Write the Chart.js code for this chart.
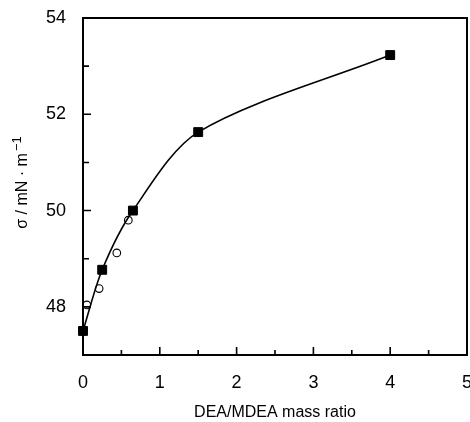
<!DOCTYPE html>
<html>
<head>
<meta charset="utf-8">
<script src="https://cdn.jsdelivr.net/npm/chart.js@4/dist/chart.umd.min.js"></script>
<style>
  html, body { margin: 0; padding: 0; background: #fff; }
  #wrap { width: 470px; height: 422px; }
</style>
</head>
<body>
<div id="wrap"><canvas id="c" width="470" height="422"></canvas></div>
<script>
// Filled squares (with smooth curve through them)
const squareX = [0, 0.25, 0.65, 1.5, 4.0];
const squareY = [47.5, 48.77, 50.0, 51.63, 53.23];
// Open circles
const circleX = [0.05, 0.21, 0.44, 0.59];
const circleY = [48.04, 48.38, 49.12, 49.8];
// Axis settings
const xMin = 0, xMax = 5, xStep = 0.5;
const yMin = 47, yMax = 54, yStep = 1;
const xTitle = 'DEA/MDEA mass ratio';
const yTitleMain = 'σ / mN · m';
const yTitleSup = '−1';

const toPts = (xs, ys) => xs.map((x, i) => ({ x: x, y: ys[i] }));
const FONT = 'Liberation Sans, Arial, Helvetica, sans-serif';

const frame = {
  id: 'frame',
  afterDatasetsDraw(chart) {
    const { ctx, chartArea: a, scales } = chart;
    ctx.save();
    ctx.strokeStyle = '#000';
    ctx.lineWidth = 2;
    ctx.strokeRect(a.left, a.top, a.right - a.left, a.bottom - a.top);
    ctx.lineWidth = 1.6;
    ctx.beginPath();
    scales.x.ticks.forEach(t => {
      const px = scales.x.getPixelForValue(t.value);
      const major = Math.abs(t.value - Math.round(t.value)) < 1e-6;
      const len = major ? 8 : 5;
      ctx.moveTo(px, a.bottom);
      ctx.lineTo(px, a.bottom - len);
    });
    scales.y.ticks.forEach(t => {
      const py = scales.y.getPixelForValue(t.value);
      const major = Math.round(t.value) % 2 === 0;
      const len = major ? 8 : 6;
      ctx.moveTo(a.left, py);
      ctx.lineTo(a.left + len, py);
    });
    ctx.stroke();

    // y-axis title with true superscript
    const mainFont = '16px ' + FONT;
    const supFont = '13px ' + FONT;
    ctx.font = mainFont;
    const wMain = ctx.measureText(yTitleMain).width;
    ctx.font = supFont;
    const wSup = ctx.measureText(yTitleSup).width;
    const gap = 2;
    const total = wMain + gap + wSup;
    const cy = (a.top + a.bottom) / 2 - 4;
    const baseX = 27;
    ctx.translate(baseX, cy);
    ctx.rotate(-Math.PI / 2);
    ctx.fillStyle = '#000';
    ctx.textBaseline = 'alphabetic';
    ctx.textAlign = 'left';
    ctx.font = mainFont;
    ctx.fillText(yTitleMain, -total / 2, 0);
    ctx.font = supFont;
    ctx.fillText(yTitleSup, -total / 2 + wMain + gap, -6);
    ctx.restore();
  }
};

const noEdgePad = s => { s.paddingTop = 0; s.paddingBottom = 0; s.paddingLeft = 0; s.paddingRight = 0; };

new Chart(document.getElementById('c'), {
  type: 'scatter',
  data: {
    datasets: [
      {
        data: toPts(circleX, circleY),
        pointStyle: 'circle',
        pointRadius: 3.8,
        pointBackgroundColor: '#fff',
        pointBorderColor: '#000',
        pointBorderWidth: 1.1,
        showLine: false,
        clip: false,
        order: 2
      },
      {
        data: toPts(squareX, squareY),
        pointStyle: 'rect',
        pointRadius: 6.3,
        pointBackgroundColor: '#000',
        pointBorderColor: '#000',
        pointBorderWidth: 1,
        showLine: true,
        borderColor: '#000',
        borderWidth: 1.6,
        tension: 0.3,
        fill: false,
        clip: false,
        order: 1
      }
    ]
  },
  options: {
    responsive: false,
    animation: false,
    devicePixelRatio: 1,
    layout: { autoPadding: false, padding: { left: 0, top: 18, right: 3, bottom: 0 } },
    plugins: { legend: { display: false }, tooltip: { enabled: false } },
    scales: {
      x: {
        type: 'linear', min: xMin, max: xMax,
        grid: { display: true, drawOnChartArea: false, drawTicks: false },
        border: { display: false },
        ticks: {
          stepSize: xStep, autoSkip: false, maxRotation: 0, padding: 17,
          color: '#000', font: { family: FONT, size: 18 },
          callback: v => (Math.abs(v - Math.round(v)) < 1e-6 ? String(Math.round(v)) : '')
        },
        title: { display: true, text: xTitle, color: '#000', font: { family: FONT, size: 16 }, padding: { top: 4, bottom: 0 } },
        afterFit: s => { s.height = 67; noEdgePad(s); }
      },
      y: {
        type: 'linear', min: yMin, max: yMax,
        grid: { display: true, drawOnChartArea: false, drawTicks: false },
        border: { display: false },
        ticks: {
          stepSize: yStep, autoSkip: false, padding: 17,
          color: '#000', font: { family: FONT, size: 18 },
          callback: v => (Math.round(v) % 2 === 0 ? String(v) : '')
        },
        title: { display: false },
        afterFit: s => { s.width = 83; noEdgePad(s); }
      }
    }
  },
  plugins: [frame]
});
</script>
</body>
</html>
